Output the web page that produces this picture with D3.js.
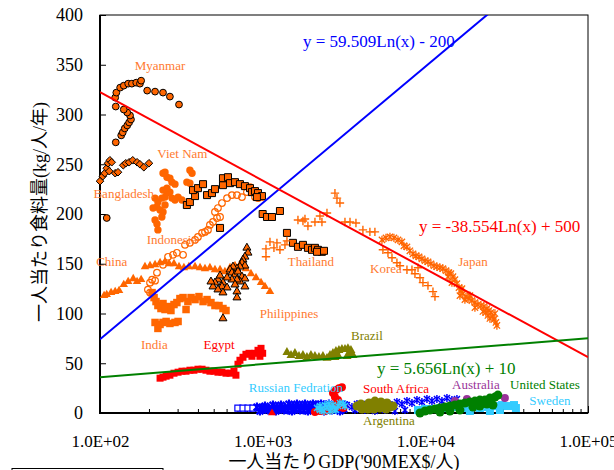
<!DOCTYPE html>
<html><head><meta charset="utf-8">
<script src="https://cdn.jsdelivr.net/npm/d3@7"></script>
<style>body{margin:0;background:#fff;overflow:hidden}</style>
</head><body>
<svg id="c" width="614" height="470"></svg>
<script>
// ---- data: [GDP per capita ('90 MEX$), food per capita (kg/year)] ----
const myanmar = [[125,272],[135,279],[138,282],[142,286],[147,289],[151,292],[155,295],[153,299],[147,302],[140,305],[125,308],[124,317],[126,322],[133,327],[140,329],[149,331],[157,331],[167,332],[176,331],[179,334],[195,324],[218,323],[244,322],[269,318],[306,310],[110,196]];
const bangladesh = [[100,233],[104,238],[107,241],[110,246],[112,251],[115,254],[118,252],[114,243],[124,241],[129,242],[139,249],[144,251],[151,252],[159,254],[169,252],[176,250],[186,247],[200,251]];
const vietnam = [[244,241],[251,242],[258,237],[269,236],[277,232],[289,230],[342,232],[357,244],[368,241],[357,231],[218,216],[227,212],[224,207],[212,206],[234,204],[240,216],[251,217],[258,221],[269,222],[277,216],[289,214],[302,217],[319,214],[244,202],[251,209],[218,194],[224,190],[227,184],[244,224],[258,226],[240,197]];
const indonesia = [[197,124],[203,121],[203,131],[209,134],[218,133],[224,141],[244,149],[262,157],[281,159],[297,161],[324,159],[333,169],[357,171],[384,174],[400,177],[424,181],[442,182],[461,184],[474,189],[495,192],[524,196],[547,197],[509,202],[531,206],[562,211],[604,216],[647,219],[695,219],[746,217],[800,222],[836,227],[897,217],[936,216],[990,217]];
const china = [[106,118],[110,119],[117,121],[124,122],[131,123],[140,129],[149,132],[160,135],[169,132],[179,134],[189,147],[203,148],[218,149],[234,151],[251,152],[266,150],[285,150],[306,147],[328,146],[352,147],[384,147],[412,146],[442,145],[474,146],[509,144],[547,144],[586,142],[630,146],[676,148],[725,149],[789,145],[847,140],[910,136],[977,131],[1033,127],[1109,122]];
const india = [[209,121],[215,116],[221,112],[227,108],[237,105],[244,110],[251,104],[262,107],[273,103],[285,109],[297,111],[310,115],[324,116],[338,104],[347,112],[363,116],[384,114],[406,117],[430,112],[455,114],[481,111],[509,108],[539,108],[570,105],[595,103],[218,91],[227,85],[234,89],[244,91],[255,92],[269,90],[289,91],[302,92]];
const philippines = [[800,166],[812,161],[778,157],[757,154],[746,151],[778,148],[725,147],[695,145],[657,147],[630,144],[647,141],[676,139],[705,142],[746,137],[778,135],[725,132],[695,134],[647,134],[604,136],[570,131],[531,134],[509,131],[495,127],[562,127],[531,124],[604,126],[676,129],[778,127],[570,121],[695,122],[695,116],[570,95],[481,132],[547,138]];
const thailand = [[342,209],[357,212],[384,218],[373,224],[400,226],[430,230],[455,219],[488,221],[509,225],[570,229],[570,236],[612,237],[630,231],[676,232],[725,230],[778,228],[836,226],[859,222],[897,223],[936,221],[990,218],[922,217],[1000,200],[1063,197],[1141,197],[1277,203],[547,186],[1410,181],[1535,171],[1648,167],[1769,169],[1898,166],[2010,164],[2096,166],[2188,164],[2314,162],[2383,163],[2158,162]];
const korea = [[1048,165],[1048,157],[1109,172],[1173,166],[1224,171],[1277,164],[1371,169],[1410,173],[1648,194],[1769,193],[1820,195],[1898,188],[2096,192],[2250,198],[2314,192],[2485,201],[2782,221],[2863,216],[2986,211],[3206,192],[3443,192],[3745,191],[4133,184],[4563,182],[4898,182],[5486,164],[5892,161],[6237,156],[6689,151],[6982,148],[7709,144],[8275,144],[9017,146],[8635,140],[9270,136],[9667,131],[10380,128],[11140,122],[11460,117]];
const japan = [[5412,174],[5728,176],[6059,177],[6412,176],[6790,174],[7178,172],[7384,168],[7709,167],[8035,163],[8395,160],[8750,158],[9140,157],[9528,155],[9954,153],[10380,152],[10820,150],[11300,148],[11780,147],[12300,146],[12820,145],[13400,143],[13960,141],[14360,140],[14790,137],[15200,134],[15630,130],[16100,126],[16560,123],[17020,120],[17780,117],[18530,115],[19320,113],[20180,111],[21040,109],[21980,108],[22910,107],[23930,105],[24600,103],[25290,101],[26000,97],[26420,94],[27160,91],[27540,88],[26790,100],[24950,95],[23550,101],[18790,118],[16790,125],[16320,118],[17510,114],[20180,106],[22600,102],[24250,98],[14570,131],[13770,137]];
const egypt = [[234,35],[244,36],[255,37],[269,38],[285,40],[302,41],[319,42],[338,42],[357,43],[378,43],[400,44],[424,44],[448,43],[474,42],[502,42],[531,41],[562,41],[595,40],[630,40],[666,42],[685,38],[705,49],[725,53],[757,56],[789,59],[824,60],[859,57],[897,60],[936,63],[977,65],[1000,60],[962,57]];
const brazil = [[1410,61],[1493,58],[1579,60],[1672,57],[1769,58],[1872,56],[1981,58],[2096,57],[2218,56],[2348,57],[2485,55],[2593,58],[2705,60],[2822,62],[2944,63],[3071,64],[3206,64],[3344,65],[3489,63],[3590,58],[3443,59],[3298,57],[2903,58],[2782,56]];
const southAfrica = [[2705,20],[2822,23],[2944,25],[3071,26],[2782,16],[2903,13],[2863,9],[2986,6],[3130,5],[2705,7],[2593,3],[2415,2],[2250,2],[2096,1]];
const russia = [[2158,5],[2250,7],[2314,4],[2415,8],[2485,6],[2556,9],[2630,5],[2705,8],[2782,4],[2903,7],[2986,10],[3130,9],[2250,3],[2593,2],[2383,2],[2822,3],[3206,7]];
const blueSquares = [[704,5],[757,5],[812,5],[871,5]];
const blueDense = [[922,6],[977,5],[1033,7],[1092,5],[1157,8],[1224,6],[1296,8],[1371,6],[1451,9],[1535,7],[1625,9],[1719,7],[1820,9],[1925,7],[2037,9],[2158,8],[2284,9],[2415,8],[2556,9],[2705,7],[2863,9],[3029,7],[3206,8],[962,2],[1020,4],[1078,3],[1140,3],[1207,2],[1280,4],[1352,3],[1430,3],[1514,2],[1600,4],[1695,3],[1790,3],[1898,2],[2010,4],[2127,3],[2250,4],[2383,2],[2520,4],[2667,3],[2820,4],[2986,2],[3150,4]];
const blueStars = [[3298,8],[3540,6],[3799,9],[4078,7],[4377,9],[4697,7],[5041,9],[5412,8],[5809,10],[6237,8],[6689,11],[7178,9],[7709,12],[8275,10],[8880,13],[9528,11],[10230,14],[10980,12],[11780,14],[12650,12],[13580,15],[14570,13],[15640,14],[3693,3],[4250,3],[4898,2],[5644,3],[6502,2],[7499,3]];
const argentina = [[3800,7],[4019,9],[4250,6],[4501,10],[4697,8],[4898,12],[5114,9],[5335,11],[5566,8],[5809,10],[6059,6],[4078,4],[4437,4],[4831,4],[5260,5],[5728,4],[6324,7]];
const sweden = [[9017,3],[9954,4],[10980,4],[12300,5],[13770,5],[15420,6],[17270,5],[19320,6],[21650,5],[24250,6],[27160,7],[29570,8],[32210,7],[35090,8],[36060,5],[28740,3],[24950,2],[18790,2]];
const usa = [[9270,0],[9954,2],[10670,3],[11460,4],[12300,5],[13200,6],[14160,7],[15200,8],[16320,9],[17510,10],[18790,11],[20180,12],[21650,13],[23240,13],[24950,15],[26790,16],[27930,18],[12300,1],[14160,2],[16320,3],[19620,6],[23930,9],[26030,8],[21650,7]];
const australia = [[15200,12],[18020,14],[21650,11],[30840,15]];
const redTriangles = [[1141,0]];

// trend lines: y = a*ln(x) + b
const trendNames = ["blue","red","green"];
const trendA = [59.509, -38.554, 5.656];
const trendB = [-200, 500, 10];
const trendText = ["y = 59.509Ln(x) - 200", "y = -38.554Ln(x) + 500", "y = 5.656Ln(x) + 10"];
const trendTextAt = [[1769,374],[9140,188],[5041,45]];

// country labels, anchored in data coordinates
const labelNames = ["Myanmar","Viet Nam","Bangladesh","Indonesia","China","India","Egypt","Philippines","Thailand","Korea","Japan","Brazil","Russian Fedration","South Africa","Australia","United States","Sweden","Argentina"];
const labelAt = [[234,349],[321,261],[140,221],[277,174],[118,152],[216,69],[539,69],[1451,100],[1981,152],[5728,145],[19630,152],[4377,78],[1602,26],[6597,25],[20460,29],[54330,29],[58340,13],[5976,-7]];

const yTicks = [0,50,100,150,200,250,300,350,400];
const xTicks = [100,1000,10000,100000];
const xTickLabels = ["1.0E+02","1.0E+03","1.0E+04","1.0E+05"];
const xTitle = "一人当たりGDP('90MEX$/人)";
const yTitle = "一人当たり食料量(kg/人/年)";

// ---- drawing ----
const OR = "#FF6600", ORT = "#FF7A30";
const labelColors = [ORT,ORT,ORT,ORT,ORT,ORT,"#FF0000",ORT,ORT,ORT,ORT,"#808000","#33CCFF","#FF0000","#993399","#008000","#33CCFF","#808000"];
const trendColors = ["#0000FF","#FF0000","#008000"];

const L=100,R=588,T=15,B=413;
const svg = d3.select("#c");
const X = d3.scaleLog().domain([100,1e5]).range([L,R]);
const Y = d3.scaleLinear().domain([0,400]).range([B,T]);
const SERIF = "'Liberation Serif','Times New Roman',serif";

svg.append("defs").append("clipPath").attr("id","clip")
  .append("rect").attr("x",L).attr("y",T).attr("width",R-L).attr("height",B-T);

function shape(kind, s){
  switch(kind){
    case "circle": return d3.symbol(d3.symbolCircle, Math.PI*s*s)();
    case "square": return `M${-s/2},${-s/2}h${s}v${s}h${-s}Z`;
    case "triangle": {const h=s*Math.sqrt(3)/2; return `M0,${-h*2/3}L${s/2},${h/3}L${-s/2},${h/3}Z`;}
    case "diamond": return `M0,${-s}L${s},0L0,${s}L${-s},0Z`;
    case "plus": return `M${-s},0H${s}M0,${-s}V${s}`;
    case "star": {const k=s*0.75; return `M0,${-s}V${s}M${-k},${-k}L${k},${k}M${-k},${k}L${k},${-k}`;}
  }
}
function plot(data, kind, size, fill, stroke, sw){
  svg.append("g").selectAll("path").data(data).join("path")
    .attr("transform", d=>`translate(${X(d[0])},${Y(d[1])})`)
    .attr("d", shape(kind,size))
    .attr("fill", fill).attr("stroke", stroke||"none").attr("stroke-width", sw||1);
}

// axes
const yAxis = d3.axisLeft(Y).tickValues(yTicks).tickSize(-6).tickSizeOuter(0).tickPadding(17).tickFormat(d3.format("d"));
const gy = svg.append("g").attr("transform",`translate(${L},0)`).call(yAxis);
gy.selectAll("text").attr("font-family",SERIF).attr("font-size",18).attr("fill","#000");
gy.select(".domain").remove();
gy.selectAll("line").attr("stroke","#000");

const minor = [];
for (let e=100;e<1e5;e*=10) for (let m=2;m<10;m++) minor.push(e*m);
const gxm = svg.append("g").attr("transform",`translate(0,${B})`)
  .call(d3.axisBottom(X).tickValues(minor).tickSize(-4).tickSizeOuter(0).tickFormat(""));
gxm.select(".domain").remove();
const gx = svg.append("g").attr("transform",`translate(0,${B})`)
  .call(d3.axisBottom(X).tickValues(xTicks).tickSize(-7).tickSizeOuter(0).tickPadding(22).tickFormat((d,i)=>xTickLabels[i]));
gx.select(".domain").remove();
gx.selectAll("text").attr("font-family",SERIF).attr("font-size",17).attr("fill","#000");
svg.selectAll(".tick line").attr("stroke","#000");

// frame
svg.append("rect").attr("x",L).attr("y",T).attr("width",R-L).attr("height",B-T)
  .attr("fill","none").attr("stroke","#000").attr("stroke-width",1);
svg.append("path").attr("d",`M${L},${T}V${B}H${R}`).attr("fill","none").attr("stroke","#000").attr("stroke-width",2);

// series (back to front)
plot(blueSquares,"square",6,"#fff","#0000FF",1.2);
plot(blueDense,"star",4.5,"none","#0000FF",2.2);
plot(blueStars,"star",4,"none","#0000FF",1.5);
plot(redTriangles,"triangle",8,"#FF0000");
plot(southAfrica,"circle",4,"#FF0000");
plot(russia,"star",4,"none","#33CCFF",1.5);
plot(argentina,"circle",4.5,"#808000");
plot(sweden,"square",8,"#33CCFF");
plot(australia,"circle",4,"#993399");
plot(usa,"circle",4.5,"#008000");
plot(egypt,"square",7,"#FF0000");
plot(brazil,"triangle",9,"#808000");
plot(china,"triangle",8.5,OR);
plot(india,"square",7.5,OR);
plot(vietnam,"circle",3.7,OR);
plot(indonesia,"circle",3.3,"none",OR,1.2);
plot(philippines,"triangle",8,OR,"#000",1);
plot(thailand,"square",7,OR,"#000",1);
plot(bangladesh,"diamond",3.8,OR,"#000",1);
plot(myanmar,"circle",3.4,OR,"#000",1);
plot(korea,"plus",4.2,"none",OR,1.4);
plot(japan,"star",4.2,"none",OR,1.3);

// trend lines
const gl = svg.append("g").attr("clip-path","url(#clip)");
trendNames.forEach((n,i)=>{
  const f = x => trendA[i]*Math.log(x)+trendB[i];
  gl.append("line").attr("x1",X(100)).attr("y1",Y(f(100)))
    .attr("x2",X(1e5)).attr("y2",Y(f(1e5)))
    .attr("stroke",trendColors[i]).attr("stroke-width",2);
});
trendText.forEach((t,i)=>{
  svg.append("text").attr("x",X(trendTextAt[i][0])).attr("y",Y(trendTextAt[i][1])).attr("dy","0.35em")
    .attr("font-family",SERIF).attr("font-size",17).attr("fill",trendColors[i]).text(t);
});

// country labels
labelNames.forEach((t,i)=>{
  svg.append("text").attr("x",X(labelAt[i][0])).attr("y",Y(labelAt[i][1])).attr("dy","0.35em")
    .attr("text-anchor","middle").attr("font-family",SERIF).attr("font-size",13)
    .attr("fill",labelColors[i]).text(t);
});

// axis titles
const TF = "'Liberation Serif','Noto Sans CJK JP',serif";
svg.append("text").attr("x",(L+R)/2).attr("y",462).attr("dy","0.35em").attr("text-anchor","middle")
  .attr("font-family",TF).attr("font-size",18).attr("fill","#000").text(xTitle);
svg.append("text").attr("transform","translate(40,212) rotate(-90)").attr("dy","0.35em").attr("text-anchor","middle")
  .attr("font-family",TF).attr("font-size",18).attr("fill","#000").text(yTitle);

// partially visible box at bottom left
svg.append("rect").attr("x",12).attr("y",468.5).attr("width",151).attr("height",20)
  .attr("fill","none").attr("stroke","#000").attr("stroke-width",1);
</script>
</body></html>
